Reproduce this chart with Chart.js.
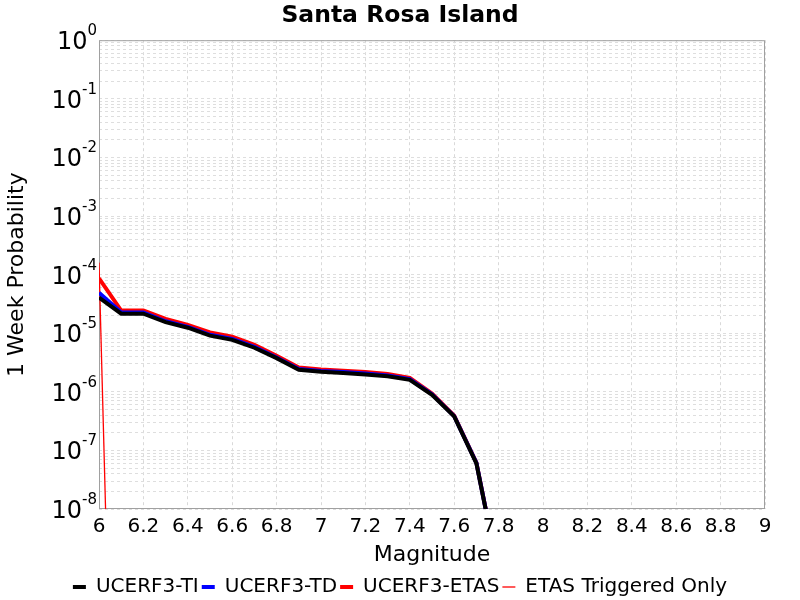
<!DOCTYPE html>
<html>
<head>
<meta charset="utf-8">
<script src="https://cdn.jsdelivr.net/npm/chart.js@4/dist/chart.umd.min.js"></script>
<style>
  body { margin: 0; background: #fff; }
</style>
</head>
<body>
<canvas id="myChart" width="800" height="600"></canvas>
<script>
const mags = [6.0, 6.1, 6.2, 6.3, 6.4, 6.5, 6.6, 6.7, 6.8, 6.9, 7.0, 7.1, 7.2, 7.3, 7.4, 7.5, 7.6, 7.7, 7.8];
const tiProb = [4.05e-5, 2.15e-5, 2.15e-5, 1.54e-5, 1.24e-5, 9.1e-6, 7.7e-6, 5.65e-6, 3.75e-6, 2.38e-6, 2.2e-6, 2.1e-6, 1.98e-6, 1.84e-6, 1.6e-6, 8.9e-7, 3.8e-7, 6.0e-8, 8e-10];
const tdProb = [4.9e-5, 2.25e-5, 2.25e-5, 1.6e-5, 1.28e-5, 9.4e-6, 8.0e-6, 5.85e-6, 3.85e-6, 2.45e-6, 2.27e-6, 2.17e-6, 2.05e-6, 1.9e-6, 1.65e-6, 9.1e-7, 3.85e-7, 6.1e-8, 8e-10];
const etasProb = [8.65e-5, 2.43e-5, 2.43e-5, 1.75e-5, 1.38e-5, 1.03e-5, 8.7e-6, 6.35e-6, 4.12e-6, 2.6e-6, 2.4e-6, 2.29e-6, 2.17e-6, 2.01e-6, 1.73e-6, 9.35e-7, 3.9e-7, 6.2e-8, 8e-10];
const trigProb = [1.6e-4, 1e-18, null, null, null, null, null, null, null, null, null, null, null, null, null, null, null, null, null];

const xTicks = [6, 6.2, 6.4, 6.6, 6.8, 7, 7.2, 7.4, 7.6, 7.8, 8, 8.2, 8.4, 8.6, 8.8, 9];
const yExponents = [0, -1, -2, -3, -4, -5, -6, -7, -8];

const FONT = 'DejaVu Sans';

function pts(vals) {
    return mags.map((m, i) => ({ x: m, y: vals[i] }));
}

// log grid: every 1..9 x 10^e
const yGrid = [];
yExponents.forEach(e => {
    for (let m = 1; m <= 9; m++) {
        const v = m * Math.pow(10, e);
        if (v <= 1) yGrid.push(v);
    }
});

const frame = {
    id: 'frame',
    beforeDatasetsDraw(chart) {
        const { ctx, chartArea: a } = chart;
        ctx.save();
        ctx.strokeStyle = '#a0a0a0';
        ctx.lineWidth = 1;
        ctx.strokeRect(a.left + 0.5, a.top + 0.5, a.right - a.left - 1, a.bottom - a.top - 1);
        ctx.restore();
    }
};

const yLabels = {
    id: 'yLabels',
    afterDraw(chart) {
        const { ctx, chartArea, scales } = chart;
        const y = scales.y;
        ctx.save();
        ctx.fillStyle = '#000';
        ctx.textAlign = 'right';
        ctx.textBaseline = 'alphabetic';
        yExponents.forEach(e => {
            const py = y.getPixelForValue(Math.pow(10, e));
            const exp = String(e);
            ctx.font = '15px "' + FONT + '"';
            const ew = ctx.measureText(exp).width;
            ctx.fillText(exp, chartArea.left - 2, py - 5);
            ctx.font = '24px "' + FONT + '"';
            ctx.fillText('10', chartArea.left - 2 - ew, py + 9);
        });
        ctx.restore();
    }
};

const ctx = document.getElementById('myChart').getContext('2d');
const myChart = new Chart(ctx, {
    type: 'line',
    data: {
        datasets: [{
            label: 'UCERF3-TI',
            data: pts(tiProb),
            borderColor: '#000000',
            backgroundColor: '#000000',
            borderWidth: 4
        }, {
            label: 'UCERF3-TD',
            data: pts(tdProb),
            borderColor: '#0000ff',
            backgroundColor: '#0000ff',
            borderWidth: 4
        }, {
            label: 'UCERF3-ETAS',
            data: pts(etasProb),
            borderColor: '#ff0000',
            backgroundColor: '#ff0000',
            borderWidth: 4
        }, {
            label: 'ETAS Triggered Only',
            data: pts(trigProb),
            borderColor: '#ff0000',
            backgroundColor: '#ff0000',
            borderWidth: 1.3
        }]
    },
    options: {
        responsive: false,
        animation: false,
        layout: { padding: { left: 0, right: 0, top: 0, bottom: -7 } },
        elements: { point: { radius: 0 }, line: { tension: 0 } },
        plugins: {
            title: {
                display: true,
                text: 'Santa Rosa Island',
                color: '#000',
                font: { family: FONT, size: 23.5, weight: 'bold' },
                padding: { top: 2, bottom: 10 }
            },
            legend: {
                position: 'bottom',
                labels: {
                    color: '#000',
                    font: { family: FONT, size: 20 },
                    usePointStyle: true,
                    pointStyle: 'line',
                    pointStyleWidth: 13,
                    padding: 3
                }
            },
            tooltip: { enabled: false }
        },
        scales: {
            x: {
                type: 'linear',
                min: 6,
                max: 9,
                afterBuildTicks: s => { s.ticks = xTicks.map(v => ({ value: v })); },
                ticks: {
                    color: '#000',
                    font: { family: FONT, size: 20 },
                    padding: 6,
                    maxRotation: 0,
                    autoSkip: false,
                    callback: v => String(v)
                },
                grid: { color: '#d9d9d9', drawTicks: false },
                border: { display: false, dash: [3, 3] },
                title: {
                    display: true,
                    text: 'Magnitude',
                    color: '#000',
                    font: { family: FONT, size: 22, lineHeight: 1 },
                    padding: { top: -1, bottom: 8 }
                }
            },
            y: {
                type: 'logarithmic',
                min: 1e-8,
                max: 1,
                afterBuildTicks: s => { s.ticks = yGrid.map(v => ({ value: v })); },
                afterFit: s => { s.width = 99; },
                ticks: { display: false },
                grid: { color: '#dedede', drawTicks: false },
                border: { display: false, dash: [3, 3] },
                title: {
                    display: true,
                    text: '1 Week Probability',
                    color: '#000',
                    font: { family: FONT, size: 22 },
                    padding: { top: 4, bottom: 0 }
                }
            },
            // empty right margin so the title and legend centre on the page
            yRight: {
                type: 'linear',
                position: 'right',
                afterFit: s => { s.width = 35; },
                ticks: { display: false },
                grid: { display: false, drawTicks: false },
                border: { display: false }
            }
        }
    },
    plugins: [frame, yLabels]
});
</script>
</body>
</html>
